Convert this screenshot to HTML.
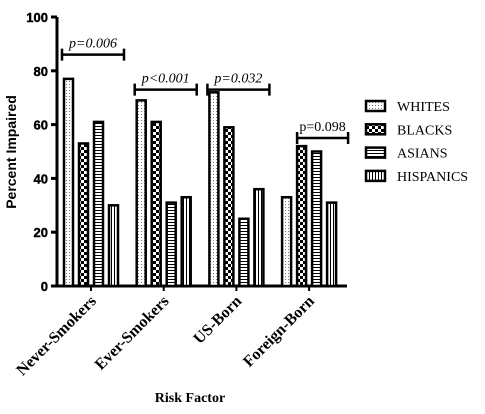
<!DOCTYPE html>
<html><head><meta charset="utf-8"><style>body{margin:0;background:#fff}svg{display:block}</style></head>
<body>
<svg id="chart" width="485" height="414" xmlns="http://www.w3.org/2000/svg">
<defs>
<pattern id="p0" width="3" height="3" patternUnits="userSpaceOnUse"><rect width="3" height="3" fill="#fff"/><rect width="1" height="1" fill="#777"/></pattern>
<pattern id="p1" width="6" height="6" patternUnits="userSpaceOnUse"><rect width="6" height="6" fill="#fff"/><rect width="3" height="3" fill="#000"/><rect x="3" y="3" width="3" height="3" fill="#000"/></pattern>
<pattern id="p2" width="3" height="3" patternUnits="userSpaceOnUse"><rect width="3" height="3" fill="#fff"/><rect width="3" height="1" fill="#000"/></pattern>
<pattern id="p3" width="3" height="3" patternUnits="userSpaceOnUse"><rect width="3" height="3" fill="#fff"/><rect width="1" height="3" fill="#000"/></pattern>
</defs>
<g id="plot"></g>
</svg>
<script>
const categories=["Never-Smokers","Ever-Smokers","US-Born","Foreign-Born"];
const seriesNames=["WHITES","BLACKS","ASIANS","HISPANICS"];
const whites=[77,69,72,33];
const blacks=[53,61,59,52];
const asians=[61,31,25,50];
const hispanics=[30,33,36,31];
const yTicks=[0,20,40,60,80,100];
const pLabels=["p=0.006","p<0.001","p=0.032","p=0.098"];
const pLevels=[86,73,73,55];
const series=[whites,blacks,asians,hispanics];
const NS="http://www.w3.org/2000/svg";
const g=document.getElementById('plot');
const y=v=>286-v*2.69;
const xc=i=>91+i*72.7;
function mk(t,a,txt){const e=document.createElementNS(NS,t);for(const k in a)e.setAttribute(k,a[k]);if(txt!=null)e.textContent=txt;g.appendChild(e);return e;}
let e=mk('line',{x1:57,y1:y(0)+1,x2:57,y2:y(100),stroke:'#000','stroke-width':3});


e=mk('line',{x1:55.5,y1:y(0),x2:347,y2:y(0),stroke:'#000','stroke-width':3});


yTicks.forEach(t=>{
 e=mk('line',{x1:51,x2:57,y1:y(t),y2:y(t),stroke:'#000','stroke-width':3});
 
 
 e=mk('text',{x:48,y:y(t)+5,'text-anchor':'end','font-family':'Liberation Sans, sans-serif','font-weight':'bold','font-size':13,stroke:'#000','stroke-width':0.4},t);
 
 
});
categories.forEach((c,i)=>{
 e=mk('line',{x1:xc(i),x2:xc(i),y1:y(0),y2:y(0)+5,stroke:'#000','stroke-width':2});
 
 
 e=mk('text',{x:0,y:0,'text-anchor':'end','font-family':'Liberation Serif, serif','font-weight':'bold','font-size':16,transform:`translate(${xc(i)+6},${y(0)+16}) rotate(-45)`},c);
 
 
 series.forEach((s,j)=>{
  const bx=xc(i)-22.5+j*15-4.5;
  e=mk('rect',{x:bx,y:y(s[i]),width:9,height:y(0)-y(s[i]),fill:`url(#p${j})`,stroke:'#000','stroke-width':2.5});
  
  
 });
 const x1=i==3?xc(i)-12:xc(i)-29, x2=i==3?xc(i)+39:xc(i)+33, py=y(pLevels[i]);
 e=mk('path',{d:`M${x1},${py-6}V${py+6}M${x1},${py}H${x2}M${x2},${py-6}V${py+6}`,stroke:'#000','stroke-width':2.5,fill:'none'});
 
 
 e=mk('text',{x:(x1+x2)/2,y:py-7,'text-anchor':'middle','font-family':'Liberation Serif, serif','font-style':i==3?'normal':'italic','font-size':14},pLabels[i]);
 
 
});
seriesNames.forEach((n,j)=>{
 const ly=106+j*23.3;
 e=mk('rect',{x:366,y:ly-5,width:19,height:10,fill:`url(#p${j})`,stroke:'#000','stroke-width':2.5});
 
 
 e=mk('text',{x:397,y:ly+5,'font-family':'Liberation Serif, serif','font-size':14},n);
 
 
});
e=mk('text',{x:0,y:0,'text-anchor':'middle','font-family':'Liberation Sans, sans-serif','font-weight':'bold','font-size':14,transform:'translate(16,152) rotate(-90)'},'Percent Impaired');


e=mk('text',{x:190,y:402,'text-anchor':'middle','font-family':'Liberation Serif, serif','font-weight':'bold','font-size':14},'Risk Factor');


</script>
</body></html>
